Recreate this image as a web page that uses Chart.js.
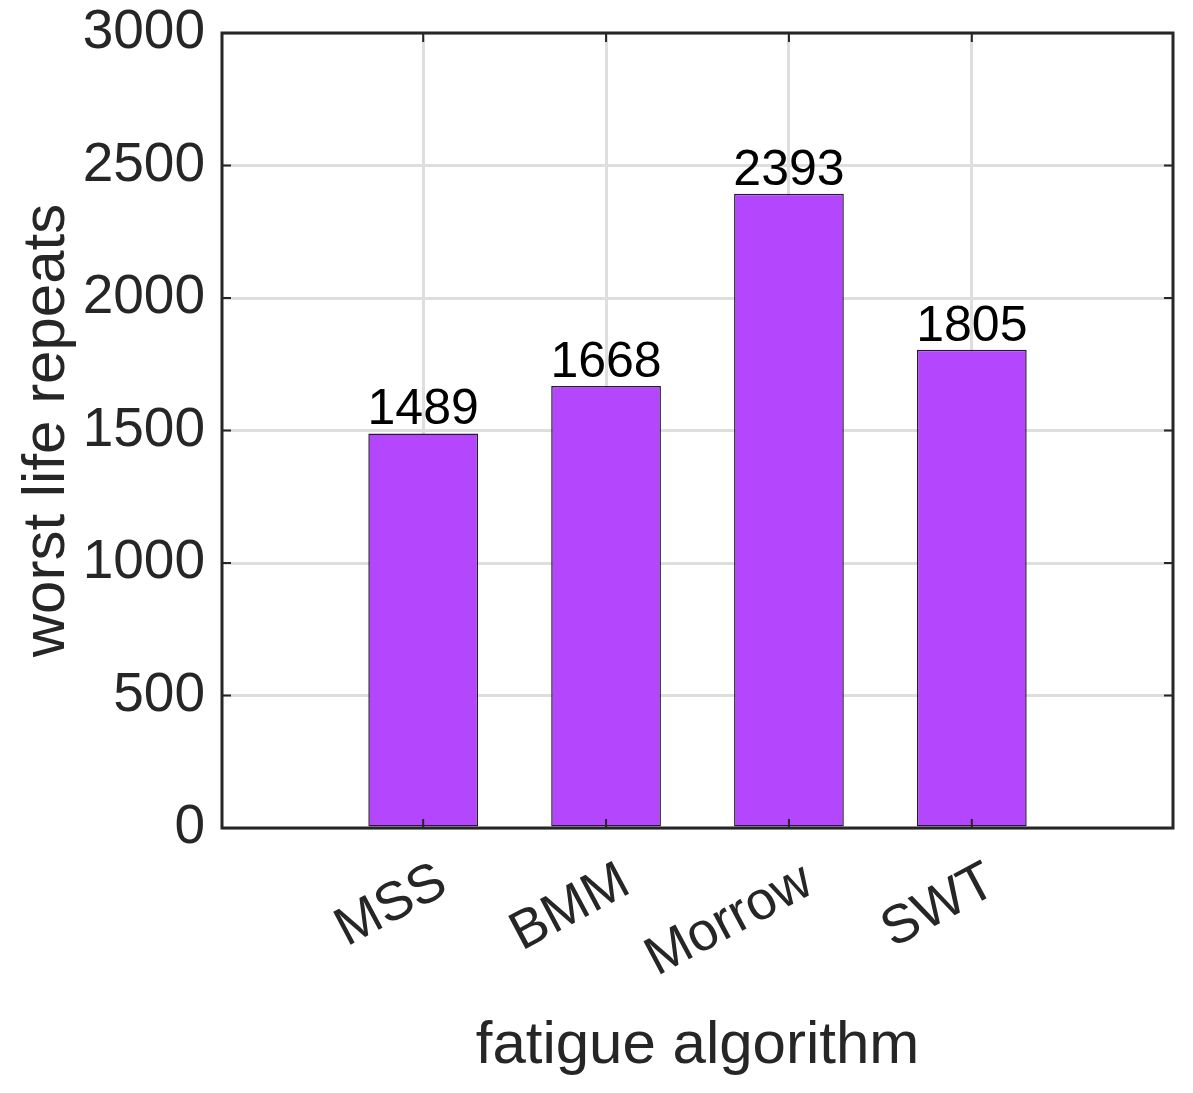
<!DOCTYPE html>
<html>
<head>
<meta charset="utf-8">
<script src="https://cdn.jsdelivr.net/npm/chart.js@4"></script>
<style>
  html, body { margin: 0; padding: 0; background: #fff; }
  #wrap { width: 1193px; height: 1093px; }
</style>
</head>
<body>
<div id="wrap"><canvas id="barChart" width="1193" height="1093"></canvas></div>
<script>
// Datos
const categories = ["MSS", "BMM", "Morrow", "SWT"];
const positions = [1, 2, 3, 4];
const lifeRepeats = [1489, 1668, 2393, 1805];
const yTicks = [0, 500, 1000, 1500, 2000, 2500, 3000];

const FONT = "'Liberation Sans', Arial, Helvetica, sans-serif";
const AXIS_COLOR = "#262626";

// Caja del area del grafico + marcas de ticks hacia dentro
const boxPlugin = {
  id: "boxPlugin",
  afterDraw(chart) {
    const { ctx, chartArea: a, scales } = chart;
    ctx.save();
    ctx.strokeStyle = AXIS_COLOR;
    ctx.lineWidth = 2;
    const len = 9;
    ctx.beginPath();
    scales.y.ticks.forEach(t => {
      const y = scales.y.getPixelForValue(t.value);
      ctx.moveTo(a.left, y); ctx.lineTo(a.left + len, y);
      ctx.moveTo(a.right, y); ctx.lineTo(a.right - len, y);
    });
    scales.x.ticks.forEach(t => {
      const x = scales.x.getPixelForValue(t.value);
      ctx.moveTo(x, a.bottom); ctx.lineTo(x, a.bottom - len);
      ctx.moveTo(x, a.top); ctx.lineTo(x, a.top + len);
    });
    ctx.stroke();
    ctx.lineWidth = 3;
    ctx.strokeRect(a.left, a.top, a.right - a.left, a.bottom - a.top);
    ctx.restore();
  }
};

// Etiquetas de valor encima de cada barra
const valueLabels = {
  id: "valueLabels",
  afterDatasetsDraw(chart) {
    const { ctx } = chart;
    const meta = chart.getDatasetMeta(0);
    ctx.save();
    ctx.font = "50px " + FONT;
    ctx.fillStyle = "#000";
    ctx.textAlign = "center";
    ctx.textBaseline = "alphabetic";
    meta.data.forEach((bar, i) => {
      ctx.fillText(String(lifeRepeats[i]), bar.x, bar.y - 9);
    });
    ctx.restore();
  }
};

const ctx = document.getElementById("barChart");
new Chart(ctx, {
  type: "bar",
  data: {
    datasets: [{
      data: positions.map((p, i) => ({ x: p, y: lifeRepeats[i] })),
      backgroundColor: "#b446fd",
      borderColor: "#2b1838",
      borderWidth: 1.5,
      borderSkipped: false,
      categoryPercentage: 1,
      barPercentage: 0.6
    }]
  },
  options: {
    responsive: false,
    animation: false,
    layout: { padding: { top: 33, right: 20, left: 0, bottom: 0 } },
    plugins: {
      legend: { display: false },
      tooltip: { enabled: false }
    },
    scales: {
      x: {
        type: "linear",
        min: -0.1,
        max: 5.1,
        offset: false,
        afterBuildTicks: scale => { scale.ticks = positions.map(v => ({ value: v })); },
        afterFit: scale => {
          scale.height = 265;
          scale.paddingLeft = 0;
          scale.paddingRight = 0;
        },
        grid: { color: "#dedede", lineWidth: 3, drawTicks: false, offset: false },
        border: { display: false },
        ticks: {
          autoSkip: false,
          minRotation: 28,
          maxRotation: 28,
          padding: 22,
          labelOffset: 20,
          color: AXIS_COLOR,
          font: { family: FONT, size: 54 },
          callback: v => categories[positions.indexOf(v)] || ""
        },
        title: {
          display: true,
          text: "fatigue algorithm",
          color: AXIS_COLOR,
          font: { family: FONT, size: 60, lineHeight: 1 },
          padding: { top: 0, bottom: 17 }
        }
      },
      y: {
        min: 0,
        max: 3000,
        afterBuildTicks: scale => { scale.ticks = yTicks.map(v => ({ value: v })); },
        afterFit: scale => {
          scale.width = 222;
          scale.paddingTop = 0;
          scale.paddingBottom = 0;
        },
        grid: { color: "#dedede", lineWidth: 3, drawTicks: false },
        border: { display: false },
        ticks: {
          padding: 17,
          color: AXIS_COLOR,
          font: { family: FONT, size: 55 },
          callback: v => String(v)
        },
        title: {
          display: true,
          text: "worst life repeats",
          color: AXIS_COLOR,
          font: { family: FONT, size: 60, lineHeight: 1 },
          padding: { top: 17, bottom: 0 }
        }
      }
    }
  },
  plugins: [boxPlugin, valueLabels]
});
</script>
</body>
</html>
